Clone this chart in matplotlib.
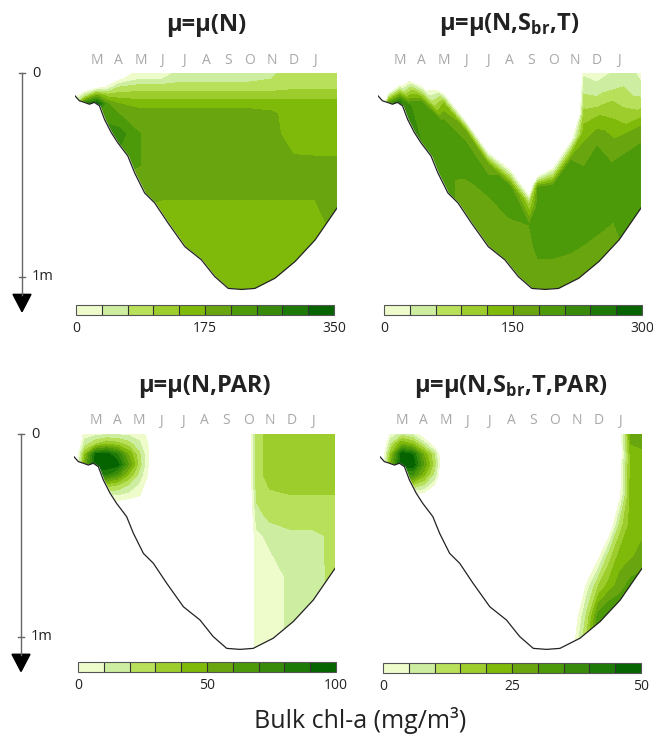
import numpy as np
import matplotlib.pyplot as plt
from matplotlib import transforms
from matplotlib.patches import Polygon

plt.rcParams['font.family'] = ['Open Sans', 'DejaVu Sans']
plt.rcParams['mathtext.fontset'] = 'custom'
plt.rcParams['mathtext.rm'] = 'Open Sans'
plt.rcParams['mathtext.bf'] = 'Open Sans:bold'

W, H = 653, 735

greens = ['#eefccc', '#cdeea0', '#b9e05a', '#9ccd2c', '#7fba0a',
          '#69a50f', '#4c9a0a', '#388a0a', '#1e7a06', '#066400']
months = ['M', 'A', 'M', 'J', 'J', 'A', 'S', 'O', 'N', 'D', 'J']
month_pos = [1, 2, 3, 4, 5, 6, 7, 8, 9, 10, 11]

# ice bottom (m below surface) vs time (months since start)
ice_t = [0, .2, .43, .66, .89, 1.12, 1.35, 1.66, 1.96, 2.42, 2.73, 3.19, 3.65,
         4.26, 5.03, 5.79, 6.40, 7.02, 7.63, 8.24, 9.16, 10.08, 11.0, 12]
ice_h = [.112, .136, .144, .153, .144, .161, .227, .292, .342, .407, .489, .588,
         .637, .735, .851, .916, .998, 1.056, 1.061, 1.056, 1.006, .924, .818, .662]

# ---- panel 1: mu = mu(N), depth grid
t1 = [0, .5, 1, 1.5, 2, 3, 4, 5, 6, 7, 8, 9, 10, 11, 12]
z1 = [0, .03, .07, .11, .15, .2, .3, .45, .6, .75, .9, 1.1]
chl1 = [
    [-105, -105, -105, -70, -35, 17, 17, 52, 52, 52, 52, 63, 88, 88, 88],
    [-105, -105, -70, -35, -10, 35, 35, 60, 60, 60, 60, 70, 91, 91, 91],
    [-105, -70, -28, 7, 70, 88, 88, 88, 88, 88, 88, 88, 98, 98, 98],
    [-35, 70, 175, 122, 122, 122, 122, 122, 122, 122, 122, 122, 122, 122, 122],
    [70, 280, 332, 210, 175, 157, 157, 157, 157, 157, 157, 157, 157, 157, 157],
    [105, 245, 245, 227, 210, 192, 192, 192, 192, 192, 192, 182, 157, 157, 157],
    [175, 210, 210, 262, 262, 210, 192, 192, 192, 192, 192, 185, 161, 157, 157],
    [175, 210, 210, 210, 227, 210, 192, 192, 192, 192, 192, 192, 182, 182, 182],
    [175, 192, 192, 192, 192, 185, 178, 178, 178, 178, 178, 178, 178, 178, 185],
    [157, 157, 157, 157, 157, 157, 157, 157, 157, 157, 157, 157, 157, 157, 189],
    [157, 157, 157, 157, 157, 157, 157, 157, 157, 157, 157, 157, 157, 157, 185],
    [157, 157, 157, 157, 157, 157, 157, 157, 161, 157, 157, 157, 157, 157, 157],
]

# ---- panel 2: mu = mu(N,Sbr,T), grid in height above ice bottom
t2 = [0, .5, 1, 1.5, 2, 3, 4, 5, 6, 6.9, 7.3, 8, 8.8, 9.4, 10, 12]
bottom2 = [.112, .147, .152, .26, .35, .55, .69, .85, .96, 1.045, 1.06, 1.058,
           1.03, .99, .93, .662]
s2 = [-.1, 0, .1, .2, .3, .4, .5, .6, .7, .8, .9, 1.0, 1.1]
chl2 = [
    [-450, 180, 285, 225, 210, 195, 165, 165, 165, 165, 165, 165, 165, 165, 165, 195],
    [-450, 180, 285, 225, 210, 195, 165, 165, 165, 165, 165, 165, 165, 165, 165, 195],
    [-450, -210, -33, 210, 210, 195, 165, 165, 165, 165, 165, 165, 165, 165, 171, 195],
    [-450, -240, -240, 45, 195, 195, 186, 165, 165, 165, 195, 195, 195, 195, 195, 195],
    [-450, -240, -240, -240, -48, 195, 195, 195, 195, 180, 195, 195, 195, 195, 195, 186],
    [-450, -240, -240, -240, -240, 120, 165, 165, 195, 90, 195, 195, 195, 195, 195, 150],
    [-450, -240, -240, -240, -240, -147, -165, -111, -33, -135, 180, 195, 195, 186, 195, 81],
    [-450, -240, -240, -240, -240, -240, -240, -240, -240, -240, -180, -21, 180, 165, 174, 33],
    [-450, -240, -240, -240, -240, -240, -240, -240, -240, -240, -240, -240, -21, 135, 129, 15],
    [-450, -240, -240, -240, -240, -240, -240, -240, -240, -240, -240, -240, -240, 96, 66, 15],
    [-450, -240, -240, -240, -240, -240, -240, -240, -240, -240, -240, -240, -240, 54, 24, 15],
    [-450, -240, -240, -240, -240, -240, -240, -240, -240, -240, -240, -240, -240, 21, 15, 15],
    [-450, -240, -240, -240, -240, -240, -240, -240, -240, -240, -240, -240, -240, 15, 15, 15],
]

# ---- panel 3: mu = mu(N,PAR), autumn patch + spring region
t3a = [0, .5, 1, 1.5, 2, 2.5, 3, 3.5, 4]
z3a = [0, .05, .1, .15, .2, .25, .3, .35]
chl3a = [
    [-30, 5, 6, 8, 8, 7, 6, -5, -30],
    [-30, 15, 30, 40, 35, 25, 12, -3, -30],
    [-30, 40, 92, 95, 80, 50, 22, -4, -30],
    [-30, 50, 98, 98, 95, 60, 25, -5, -30],
    [-30, 30, 85, 80, 65, 40, 16, -5, -30],
    [-30, 10, 30, 35, 30, 20, 8, -10, -30],
    [-30, -10, 8, 10, 10, 6, 2, -20, -30],
    [-30, -30, -10, -8, -8, -10, -20, -30, -30],
]
t3b = [8, 8.4, 9, 10, 11, 12]
z3b = [0, .2, .3, .4, .5, .7, .9, 1.1]
chl3b = [
    [-20, 25, 35, 35, 35, 35],
    [-20, 25, 35, 35, 35, 35],
    [-20, 23, 28, 30, 30, 30],
    [-20, 15, 24, 25, 25, 25],
    [-20, 8, 12, 18, 18, 22],
    [-20, 6, 6, 12, 15, 24],
    [-20, 6, 6, 12, 15, 24],
    [-20, 6, 6, 12, 15, 15],
]

# ---- panel 4: mu = mu(N,Sbr,T,PAR)
t4a = [0, .5, 1, 1.5, 2, 2.5, 3]
z4a = [0, .05, .1, .15, .2, .25, .3]
chl4a = [
    [-15, 1, 7.5, 4, -5, -15, -15],
    [-15, 10, 25, 20, 8, -5, -15],
    [-15, 20, 49, 45, 25, 10, -15],
    [-15, 25, 49, 49, 30, 12, -15],
    [-15, 10, 35, 35, 22, 8, -15],
    [-15, -5, 12.5, 15, 10, 0, -15],
    [-15, -15, -5, -2.5, -3, -15, -15],
]
t4b = [8.5, 9, 9.5, 10, 10.5, 11, 11.5, 12]
z4b = [0, .1, .3, .45, .6, .75, .9, 1.1]
chl4b = [
    [-15, -15, -15, -15, -15, -5, 27.5, 27.5],
    [-15, -15, -15, -15, -15, -5, 22.5, 24],
    [-15, -15, -15, -15, -10, -1.5, 22.5, 22.5],
    [-15, -15, -15, -15, -7.5, 12.5, 22.5, 22.5],
    [-15, -15, -15, -2.5, 12.5, 22.5, 24, 27.5],
    [-15, -15, 2.5, 15, 22.5, 27.5, 32.5, 32.5],
    [-15, -2.5, 12.5, 32.5, 37.5, 37.5, 37.5, 37.5],
    [-15, 5, 20, 37.5, 37.5, 37.5, 37.5, 37.5],
]

fig = plt.figure(figsize=(W / 100, H / 100), dpi=100)


def px_rect(x0, x1, y0, y1):
    return [x0 / W, 1 - y1 / H, (x1 - x0) / W, (y1 - y0) / H]


def draw_panel(x0, x1, ytop, mpx, title, fields, vmax, cb_box, depth_scale):
    ax = fig.add_axes(px_rect(x0, x1, ytop, ytop + 1.1 * mpx))
    levels = np.linspace(0, vmax, 11)
    cs = None
    for X, Y, Z in fields:
        cs = ax.contourf(X, Y, Z, levels=levels, colors=greens, zorder=1)
    ax.fill_between(ice_t, ice_h, 1.3, color='white', zorder=2)
    ax.plot(ice_t, ice_h, color='#222222', lw=0.9, zorder=3)
    ax.set_xlim(0, 12)
    ax.set_ylim(1.1, 0)
    ax.axis('off')

    tr = transforms.blended_transform_factory(ax.transData, ax.transAxes)
    for m, p in zip(months, month_pos):
        ax.text(p, 1 + 13 / (1.1 * mpx), m, transform=tr, ha='center', va='center',
                fontsize=10, color='#a8a8a8')

    fig.text((x0 + x1) / 2 / W, 1 - (ytop - 48) / H, title, ha='center', va='center',
             fontsize=17, fontweight='bold', color='#222222')

    cax = fig.add_axes(px_rect(*cb_box))
    cb = fig.colorbar(cs, cax=cax, orientation='horizontal', drawedges=True,
                      ticks=[0, vmax / 2, vmax])
    cb.ax.set_xticklabels(['0', '%g' % (vmax / 2), '%g' % vmax])
    cb.outline.set_edgecolor('#555555')
    cb.outline.set_linewidth(0.8)
    cb.dividers.set_color('#333333')
    cb.dividers.set_linewidth(0.8)
    cax.tick_params(length=0, labelsize=10, pad=4, colors='#222222')

    if depth_scale:
        tl = transforms.blended_transform_factory(ax.transAxes, ax.transData)
        xs = -53 / (x1 - x0)
        ax.plot([xs, xs], [0, 1.09], transform=tl, color='#666666', lw=1, clip_on=False)
        for d, lab in [(0, '0'), (1, '1m')]:
            ax.plot([xs - 3 / (x1 - x0), xs + 3 / (x1 - x0)], [d, d], transform=tl,
                    color='#666666', lw=1, clip_on=False)
            ax.text(xs + 10 / (x1 - x0), d, lab, transform=tl, ha='left', va='center',
                    fontsize=10.5, color='#222222')
        hw = 9 / (x1 - x0)
        tri = Polygon([[xs - hw, 1.085], [xs + hw, 1.085], [xs, 1.17]], closed=True,
                      transform=tl, color='black', clip_on=False)
        ax.add_patch(tri)
    return ax


X1, Y1 = np.meshgrid(t1, z1)
T2g = np.tile(t2, (len(s2), 1))
Y2g = np.array(bottom2)[None, :] - np.array(s2)[:, None]
X3a, Y3a = np.meshgrid(t3a, z3a)
X3b, Y3b = np.meshgrid(t3b, z3b)
X4a, Y4a = np.meshgrid(t4a, z4a)
X4b, Y4b = np.meshgrid(t4b, z4b)

draw_panel(75, 337, 73, 204, 'μ=μ(N)', [(X1, Y1, np.array(chl1))], 350,
           (76, 334, 305, 315), True)
draw_panel(378, 641, 73, 204, r'μ=μ(N,S$_{\mathbf{br}}$,T)', [(T2g, Y2g, np.array(chl2))], 300,
           (384, 642, 305, 315), False)
draw_panel(74, 335, 434, 203, 'μ=μ(N,PAR)',
           [(X3a, Y3a, np.array(chl3a)), (X3b, Y3b, np.array(chl3b))], 100,
           (78, 336, 662, 672), True)
draw_panel(380, 642, 434, 203, r'μ=μ(N,S$_{\mathbf{br}}$,T,PAR)',
           [(X4a, Y4a, np.array(chl4a)), (X4b, Y4b, np.array(chl4b))], 50,
           (383, 641, 663, 673), False)

fig.text(360 / W, 1 - 720 / H, 'Bulk chl-a (mg/m³)', ha='center', va='center',
         fontsize=18, color='#222222')

fig.savefig('out.png', dpi=100)
